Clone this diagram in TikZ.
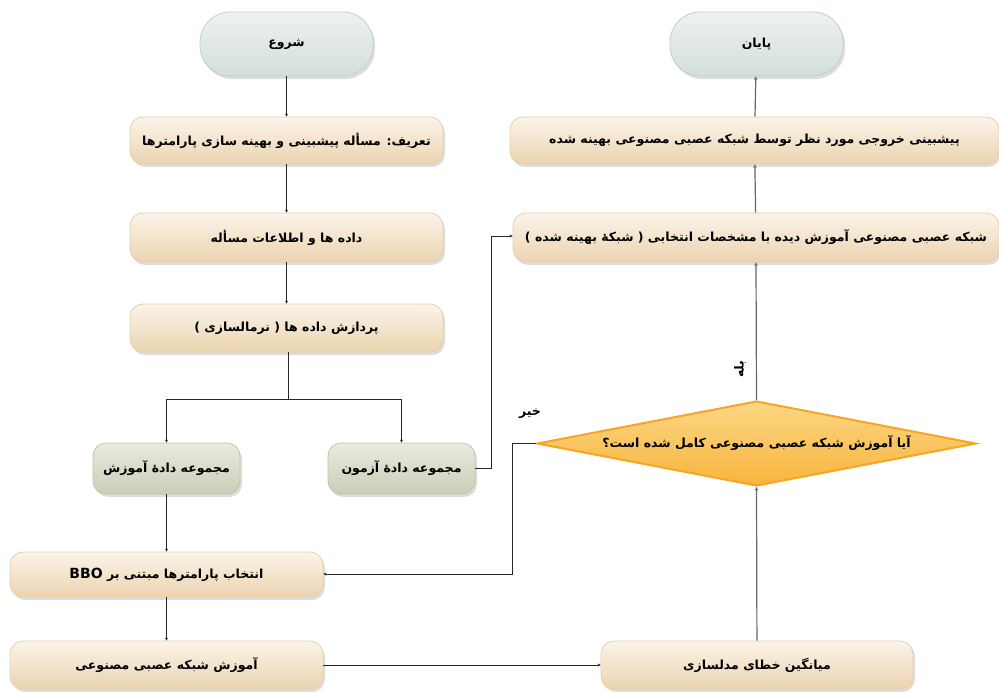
\documentclass[tikz,border=0pt]{standalone}
\usepackage{fontspec}
\TeXXeTstate=1
\newfontfamily\fafont[Script=Arabic]{DejaVu Sans}
\usetikzlibrary{shapes.geometric,shadows,arrows.meta}
\newcommand\myrtl[1]{\beginR #1\endR}
\definecolor{beigeT}{HTML}{FBF4EA}
\definecolor{beigeM}{HTML}{F2E0C6}
\definecolor{beigeB}{HTML}{EBD4B0}
\definecolor{beigeD}{HTML}{E8CFA6}
\definecolor{pillT}{HTML}{EDF2F0}
\definecolor{pillM}{HTML}{DEE7E4}
\definecolor{pillB}{HTML}{D3DEDA}
\definecolor{pillD}{HTML}{C3CFCB}
\definecolor{grnT}{HTML}{E8EBDF}
\definecolor{grnM}{HTML}{D6DCC8}
\definecolor{grnB}{HTML}{C8CFB6}
\definecolor{grnD}{HTML}{BDC5A8}
\definecolor{diaT}{HTML}{FCD784}
\definecolor{diaM}{HTML}{F9C45A}
\definecolor{diaB}{HTML}{F7B53E}
\definecolor{diaD}{HTML}{F6A623}
\tikzset{
  x=1pt, y=-1pt,
  txt/.style={font=\fafont\bfseries\fontsize{12.5}{14}\selectfont, inner sep=0pt, align=center},
  shad/.style={drop shadow={shadow xshift=2pt, shadow yshift=-3pt, opacity=0.22, fill=black!60}},
  pill/.style={txt, rectangle, rounded corners=30pt, minimum width=173pt, minimum height=64pt,
    top color=pillT, middle color=pillM, bottom color=pillB, draw=pillD, line width=0.8pt, shad},
  beige/.style={txt, rectangle, rounded corners=13pt, minimum width=313pt, minimum height=47pt,
    top color=beigeT, middle color=beigeM, bottom color=beigeB, draw=beigeD, line width=0.8pt, shad},
  green/.style={txt, rectangle, rounded corners=13pt, minimum width=147pt, minimum height=51pt,
    top color=grnT, middle color=grnM, bottom color=grnB, draw=grnD, line width=0.8pt, shad},
  dia/.style={txt, diamond, aspect=5.16, minimum width=439pt, minimum height=85pt,
    top color=diaT, middle color=diaM, bottom color=diaB, draw=diaD, line width=2pt},
  arr/.style={draw=black!85, line width=0.7pt, -{Stealth[length=3pt,width=3pt]}},
  line/.style={draw=black!85, line width=0.7pt},
  garr/.style={draw=black!60, line width=1.2pt, -{Stealth[length=3.5pt,width=3.5pt]}},
  lbl/.style={font=\fafont\bfseries\fontsize{12.5}{14}\selectfont, inner sep=0pt}
}
\begin{document}
\begin{tikzpicture}
\useasboundingbox (0,0) rectangle (999,691);
% nodes
\node[pill] (start) at (286.5,44) {\myrtl{شروع}};
\node[pill] (end) at (756.5,44) {\myrtl{پایان}};
\node[beige] (b1) at (286.5,140.5) {\myrtl{تعریف: مسأله پیشبینی و بهینه سازی پارامترها}};
\node[beige, minimum height=49pt] (b2) at (286.5,237.5) {\myrtl{داده ها و اطلاعات مسأله}};
\node[beige, minimum height=48pt] (b3) at (286.5,328) {\myrtl{پردازش داده ها ( نرمالسازی )}};
\node[green] (train) at (166.5,468.5) {\myrtl{مجموعه دادهٔ آموزش}};
\node[green] (test) at (401.5,468.5) {\myrtl{مجموعه دادهٔ آزمون}};
\node[beige, minimum width=489pt] (r1) at (754.5,140.5) {\myrtl{پیشبینی خروجی مورد نظر توسط شبکه عصبی مصنوعی بهینه شده}};
\node[beige, minimum width=486pt, minimum height=49pt] (r2) at (756,237.5) {\myrtl{شبکه عصبی مصنوعی آموزش دیده با مشخصات انتخابی ( شبکهٔ بهینه شده )}};
\node[dia] (dec) at (756.5,443.5) {\myrtl{آیا آموزش شبکه عصبی مصنوعی کامل شده است؟}};
\node[beige, minimum height=45pt] (bbo) at (166.5,574.5) {\myrtl{انتخاب پارامترها مبتنی بر \beginL\fontspec{DejaVu Sans}\bfseries\fontsize{14}{16}\selectfont BBO\endL}};
\node[beige, minimum height=48pt] (ann) at (166.5,665) {\myrtl{آموزش شبکه عصبی مصنوعی}};
\node[beige, minimum width=312pt, minimum height=48pt] (mse) at (757,665) {\myrtl{میانگین خطای مدلسازی}};
% connectors
\draw[arr] (start) -- (b1);
\draw[arr] (b1) -- (b2);
\draw[arr] (b2) -- (b3);
\coordinate (sp) at (288,399);
\draw[line] (b3.south -| sp) -- (sp);
\draw[arr] (sp) -| (train.north);
\draw[arr] (sp) -| (test.north);
\coordinate (tj) at (491,236);
\draw[arr] (test.east) -| (tj) -- (r2.west |- tj);
\draw[garr] (r2) -- (r1);
\draw[garr] (r1) -- (end);
\draw[garr] (dec.north) -- (r2.south);
\node[lbl, rotate=90] (yes) at (740,369) {\myrtl{بله}};
\coordinate (nj) at (512,574);
\draw[arr] (dec.west) -| (nj) -- (bbo.east |- nj);
\node[lbl] (no) at (530,414) {\myrtl{خیر}};
\draw[arr] (train) -- (bbo);
\draw[arr] (bbo) -- (ann);
\draw[arr] (ann) -- (mse);
\draw[garr] (mse) -- (dec.south);
\end{tikzpicture}
\end{document}
